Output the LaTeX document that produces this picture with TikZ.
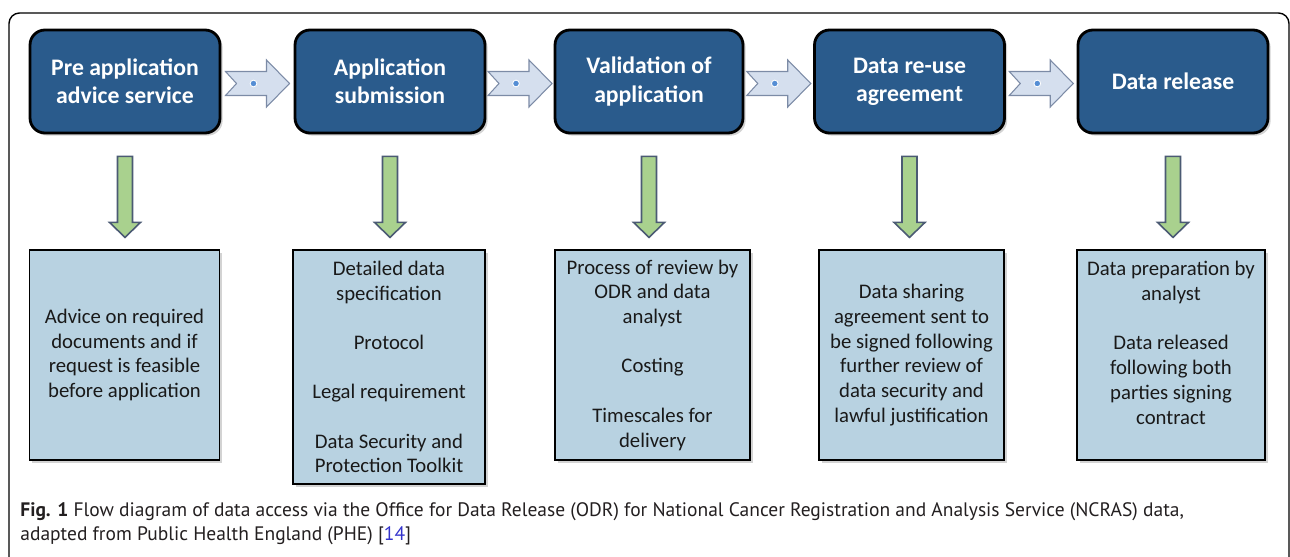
\documentclass[tikz,border=0pt]{standalone}
\usepackage{fontspec}
\setmainfont{Carlito}
\newfontfamily\piefont{PT Sans}
\usetikzlibrary{shadows,calc}
\definecolor{azulosc}{RGB}{42,91,140}
\definecolor{azulcla}{RGB}{184,210,225}
\definecolor{azulflecha}{RGB}{213,223,238}
\definecolor{bordeflecha}{RGB}{124,139,166}
\definecolor{puntoazul}{RGB}{84,141,212}
\definecolor{verde}{RGB}{169,209,142}
\definecolor{bordeverde}{RGB}{75,90,115}
\definecolor{textopie}{RGB}{35,31,32}
\definecolor{cita}{RGB}{51,51,204}
\begin{document}
\begin{tikzpicture}[   % opciones por defecto
  x=0.02cm, y=-0.02cm, % 1 unidad = 1 pixel, y hacia abajo
  line join=miter
]
  \tikzstyle{etapa}=[draw=black, line width=1.6pt, rounded corners=8.5pt,
    fill=azulosc, text=white, align=center, inner sep=0pt,
    minimum width=3.8cm, minimum height=2.06cm,
    font=\fontsize{13.5}{16}\selectfont\bfseries,
    drop shadow={shadow xshift=1.5pt, shadow yshift=-1.5pt, opacity=.35}];
  \tikzstyle{detalle}=[draw=black, line width=1.1pt, fill=azulcla,
    text=black!90, align=center, inner sep=0pt, minimum width=3.8cm,
    font=\fontsize{11.8}{14.1}\selectfont,
    drop shadow={shadow xshift=1.5pt, shadow yshift=-1.5pt, opacity=.35}];
  \tikzstyle{flechaazul}=[draw=bordeflecha, line width=0.6pt, fill=azulflecha];
  \tikzstyle{flechaverde}=[draw=bordeverde, line width=0.9pt, fill=verde];
  %
  \useasboundingbox (0,0) rectangle (1290,557);
  % marco
  \draw[line width=0.8pt, rounded corners=6pt] (9,13) rectangle (1289,620);
  %
  % etapas de arriba
  \node[etapa] (e1) at (125,81.5)   {Pre application\\advice service};
  \node[etapa] (e2) at (390,81.5)   {Application\\submission};
  \node[etapa, minimum width=3.76cm] (e3) at (649,81.5) {Validation of\\application};
  \node[etapa] (e4) at (909.5,81.5) {Data re-use\\agreement};
  \node[etapa] (e5) at (1173,81.5)  {Data release};
  %
  % detalles de abajo
  \node[detalle, minimum height=4.2cm] (d1) at (124.5,355)
    {Advice on required\\documents and if\\request is feasible\\before application};
  \node[detalle, minimum width=3.84cm, minimum height=4.68cm] (d2) at (389,367)
    {Detailed data\\specification\\[14pt]Protocol\\[14pt]Legal requirement\\[14pt]Data Security and\\Protection Toolkit};
  \node[detalle, minimum width=3.9cm, minimum height=4.2cm] (d3) at (652.5,355)
    {Process of review by\\ODR and data\\analyst\\[14pt]Costing\\[14pt]Timescales for\\delivery};
  \node[detalle, minimum width=3.7cm, minimum height=4.2cm] (d4) at (911.5,355)
    {Data sharing\\agreement sent to\\be signed following\\further review of\\data security and\\lawful justification};
  \node[detalle, minimum width=3.76cm, minimum height=4.2cm] (d5) at (1171,355)
    {Data preparation by\\analyst\\[14pt]Data released\\following both\\parties signing\\contract\\\mbox{}};
  %
  % flechas entre etapas
  \foreach \a/\b in {e1/e2,e2/e3,e3/e4,e4/e5} {
    \path ($(\a.east)!0.5!(\b.west)$) ++(0,2) coordinate (m\a);
    \draw[flechaazul, shift={(m\a)}] (-32,-12) -- (9,-12) -- (9,-23.5)
      -- (32,0) -- (9,23.5) -- (9,12) -- (-32,12) -- (-21,0) -- cycle;
    \fill[puntoazul, draw=white, line width=0.5pt, shift={(m\a)}]
      (-4,0) circle [radius=1.9pt];
  }
  %
  % flechas verdes hacia abajo
  \foreach \i in {1,...,5} {
    \path (e\i.south) ++(0,22) coordinate (v\i);
    \draw[flechaverde, shift={(v\i)}] (-7.5,0) -- (7.5,0) -- (7.5,66)
      -- (15.5,66) -- (0,81) -- (-15.5,66) -- (-7.5,66) -- cycle;
  }
  %
  % pie de figura (base = ultima linea)
  \node[anchor=base west, inner sep=0pt, align=left, text=textopie,
    font=\piefont\fontsize{11.1}{13.6}\selectfont] (pie) at (20,540)
    {\textbf{Fig. 1} Flow diagram of data access via the Office for Data Release (ODR) for National Cancer Registration and Analysis Service (NCRAS) data,\\
     adapted from Public Health England (PHE) [{\color{cita}14}]};
\end{tikzpicture}
\end{document}
